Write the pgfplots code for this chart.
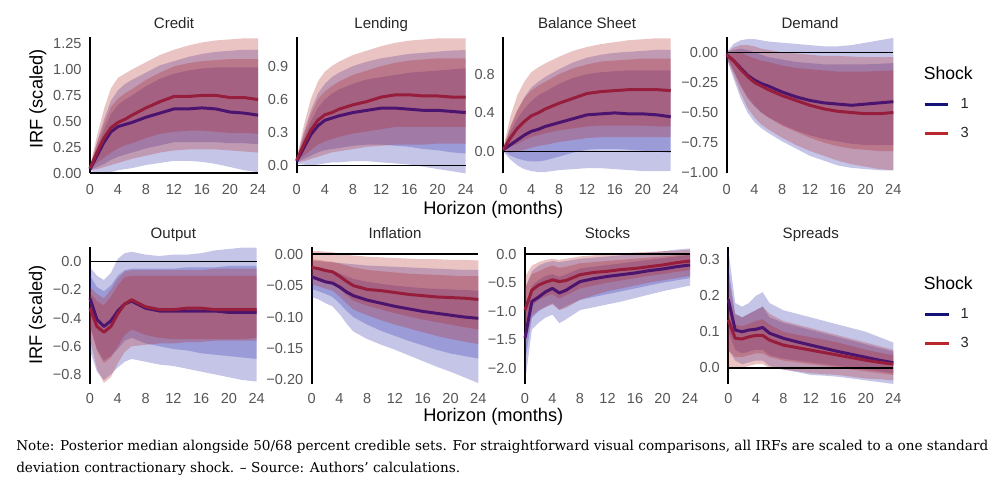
\documentclass[border=0pt]{standalone}
\usepackage{fontspec}
\setmainfont{Liberation Sans}
\newfontfamily\notefont{DejaVu Serif}
\usepackage{pgfplots}
\pgfplotsset{compat=1.18}
\usepackage{pgfplotstable}
\usepgfplotslibrary{fillbetween}

\definecolor{cnavy}{RGB}{40,40,170}
\definecolor{cred}{RGB}{178,34,34}
\definecolor{cblueline}{RGB}{75,20,110}
\definecolor{credline}{RGB}{150,30,60}
\definecolor{legnavy}{RGB}{20,20,120}
\definecolor{legred}{RGB}{185,40,45}
\definecolor{tickgray}{RGB}{85,85,85}
\definecolor{titlegray}{RGB}{38,38,38}

\pgfplotstableread{
x bm b68l b68u b50l b50u rm r68l r68u r50l r50u
0 0.04 0.02 0.06 0.03 0.05 0.05 0.03 0.07 0.04 0.06
1 0.17 0.01 0.30 0.06 0.25 0.20 0.04 0.36 0.10 0.29
2 0.30 0.00 0.52 0.09 0.42 0.34 0.06 0.62 0.15 0.48
3 0.40 0.01 0.70 0.13 0.57 0.44 0.08 0.82 0.20 0.64
4 0.45 0.03 0.80 0.16 0.66 0.49 0.10 0.92 0.24 0.72
5 0.47 0.04 0.86 0.18 0.71 0.52 0.12 0.96 0.27 0.77
6 0.49 0.05 0.90 0.20 0.75 0.56 0.14 1.00 0.29 0.81
8 0.54 0.08 0.97 0.24 0.84 0.63 0.17 1.07 0.34 0.90
10 0.58 0.10 1.04 0.27 0.91 0.69 0.20 1.14 0.38 0.97
12 0.62 0.12 1.08 0.30 0.96 0.74 0.22 1.19 0.40 1.03
14 0.62 0.12 1.12 0.30 0.99 0.74 0.23 1.23 0.41 1.06
16 0.63 0.11 1.15 0.30 1.01 0.75 0.23 1.26 0.41 1.08
18 0.62 0.09 1.17 0.30 1.02 0.75 0.23 1.28 0.40 1.09
20 0.59 0.06 1.18 0.29 1.02 0.73 0.22 1.29 0.39 1.10
22 0.58 0.03 1.19 0.29 1.02 0.73 0.21 1.30 0.39 1.10
24 0.56 0.01 1.19 0.28 1.02 0.71 0.20 1.30 0.38 1.10
}\credit

\pgfplotstableread{
x bm b68l b68u b50l b50u rm r68l r68u r50l r50u
0 0.04 0.02 0.06 0.03 0.05 0.05 0.03 0.07 0.04 0.06
1 0.16 0.01 0.30 0.06 0.24 0.19 0.04 0.36 0.09 0.28
2 0.28 0.00 0.50 0.09 0.40 0.32 0.06 0.60 0.14 0.46
3 0.36 0.01 0.65 0.12 0.52 0.41 0.08 0.76 0.19 0.60
4 0.41 0.02 0.74 0.14 0.60 0.46 0.10 0.85 0.22 0.67
5 0.43 0.03 0.80 0.15 0.65 0.48 0.12 0.90 0.24 0.72
6 0.45 0.03 0.84 0.16 0.69 0.51 0.13 0.94 0.26 0.76
8 0.48 0.04 0.90 0.18 0.74 0.55 0.15 1.00 0.29 0.82
10 0.50 0.04 0.94 0.19 0.78 0.58 0.17 1.04 0.31 0.86
12 0.52 0.03 0.97 0.19 0.80 0.62 0.18 1.08 0.33 0.90
14 0.52 0.02 0.99 0.18 0.82 0.64 0.19 1.11 0.35 0.93
16 0.51 0.01 1.01 0.17 0.84 0.64 0.19 1.13 0.35 0.95
18 0.50 -0.01 1.02 0.15 0.85 0.63 0.19 1.14 0.35 0.96
20 0.50 -0.03 1.03 0.14 0.86 0.63 0.20 1.15 0.35 0.97
22 0.49 -0.05 1.04 0.12 0.87 0.62 0.20 1.15 0.35 0.97
24 0.48 -0.07 1.045 0.11 0.88 0.62 0.20 1.15 0.35 0.97
}\lending

\pgfplotstableread{
x bm b68l b68u b50l b50u rm r68l r68u r50l r50u
0 0.02 0.00 0.04 0.01 0.03 0.02 0.01 0.04 0.01 0.03
1 0.07 -0.08 0.25 -0.04 0.20 0.14 -0.01 0.36 0.05 0.26
2 0.12 -0.14 0.42 -0.07 0.34 0.24 0.00 0.58 0.08 0.43
3 0.17 -0.18 0.56 -0.09 0.44 0.31 0.02 0.72 0.12 0.55
4 0.21 -0.20 0.66 -0.10 0.52 0.37 0.04 0.82 0.15 0.63
5 0.23 -0.21 0.72 -0.10 0.58 0.40 0.06 0.87 0.17 0.68
6 0.26 -0.21 0.77 -0.09 0.62 0.44 0.07 0.91 0.19 0.72
8 0.30 -0.19 0.85 -0.05 0.70 0.50 0.10 0.98 0.22 0.80
10 0.34 -0.18 0.92 -0.01 0.76 0.55 0.12 1.04 0.24 0.86
12 0.38 -0.17 0.97 0.02 0.80 0.60 0.14 1.08 0.26 0.90
14 0.39 -0.17 1.00 0.03 0.82 0.62 0.15 1.11 0.27 0.93
16 0.40 -0.18 1.02 0.03 0.83 0.63 0.15 1.13 0.27 0.94
18 0.39 -0.19 1.03 0.02 0.84 0.64 0.15 1.15 0.27 0.95
20 0.39 -0.20 1.04 0.01 0.84 0.64 0.15 1.16 0.27 0.96
22 0.38 -0.20 1.05 0.00 0.84 0.64 0.15 1.17 0.26 0.96
24 0.36 -0.20 1.05 -0.01 0.84 0.63 0.15 1.17 0.26 0.96
}\balance

\pgfplotstableread{
x bm b68l b68u b50l b50u rm r68l r68u r50l r50u
0 -0.02 -0.05 0.00 -0.04 0.00 -0.02 -0.05 0.00 -0.04 0.00
1 -0.07 -0.22 0.07 -0.16 0.02 -0.07 -0.19 0.04 -0.15 0.00
2 -0.13 -0.38 0.10 -0.28 0.03 -0.14 -0.34 0.06 -0.27 0.00
3 -0.19 -0.50 0.11 -0.38 0.02 -0.20 -0.46 0.06 -0.37 -0.03
4 -0.23 -0.58 0.11 -0.45 0.00 -0.25 -0.54 0.05 -0.44 -0.05
5 -0.26 -0.63 0.10 -0.50 -0.02 -0.28 -0.60 0.03 -0.50 -0.07
6 -0.28 -0.67 0.09 -0.54 -0.04 -0.31 -0.64 0.02 -0.54 -0.08
8 -0.33 -0.74 0.08 -0.60 -0.06 -0.36 -0.71 0.00 -0.61 -0.11
10 -0.37 -0.80 0.07 -0.65 -0.08 -0.40 -0.77 -0.01 -0.66 -0.13
12 -0.40 -0.86 0.06 -0.69 -0.09 -0.44 -0.82 -0.02 -0.71 -0.14
14 -0.42 -0.90 0.05 -0.72 -0.10 -0.47 -0.86 -0.03 -0.75 -0.15
16 -0.43 -0.94 0.05 -0.74 -0.10 -0.49 -0.90 -0.03 -0.78 -0.16
18 -0.44 -0.96 0.06 -0.76 -0.10 -0.50 -0.93 -0.035 -0.80 -0.16
20 -0.43 -0.97 0.08 -0.77 -0.10 -0.51 -0.95 -0.04 -0.81 -0.16
22 -0.42 -0.98 0.10 -0.77 -0.095 -0.51 -0.97 -0.04 -0.82 -0.155
24 -0.41 -0.98 0.12 -0.77 -0.09 -0.50 -0.98 -0.04 -0.82 -0.15
}\demand

\pgfplotstableread{
x bm b68l b68u b50l b50u rm r68l r68u r50l r50u
0 -0.26 -0.63 -0.04 -0.45 -0.10 -0.33 -0.55 -0.18 -0.46 -0.22
1 -0.41 -0.78 -0.10 -0.62 -0.18 -0.46 -0.76 -0.23 -0.63 -0.28
2 -0.46 -0.84 -0.13 -0.70 -0.21 -0.50 -0.86 -0.26 -0.72 -0.31
3 -0.42 -0.80 -0.08 -0.67 -0.17 -0.46 -0.82 -0.20 -0.68 -0.25
4 -0.35 -0.75 0.02 -0.62 -0.10 -0.37 -0.72 -0.12 -0.60 -0.17
5 -0.30 -0.71 0.06 -0.56 -0.06 -0.30 -0.64 -0.07 -0.52 -0.11
6 -0.28 -0.69 0.07 -0.54 -0.05 -0.27 -0.60 -0.06 -0.48 -0.10
8 -0.33 -0.71 0.05 -0.58 -0.05 -0.32 -0.59 -0.06 -0.52 -0.10
10 -0.35 -0.73 0.04 -0.60 -0.05 -0.34 -0.58 -0.06 -0.54 -0.10
12 -0.35 -0.74 0.05 -0.62 -0.05 -0.34 -0.58 -0.06 -0.55 -0.10
14 -0.35 -0.76 0.05 -0.63 -0.04 -0.33 -0.57 -0.06 -0.55 -0.10
16 -0.35 -0.78 0.06 -0.65 -0.04 -0.33 -0.57 -0.06 -0.55 -0.10
18 -0.35 -0.80 0.08 -0.66 -0.04 -0.34 -0.56 -0.05 -0.55 -0.10
20 -0.36 -0.82 0.09 -0.67 -0.03 -0.34 -0.56 -0.05 -0.55 -0.10
22 -0.36 -0.84 0.10 -0.68 -0.03 -0.34 -0.56 -0.05 -0.55 -0.10
24 -0.36 -0.85 0.10 -0.69 -0.03 -0.34 -0.56 -0.05 -0.54 -0.10
}\output

\pgfplotstableread{
x bm b68l b68u b50l b50u rm r68l r68u r50l r50u
0 -0.036 -0.068 -0.010 -0.055 -0.020 -0.021 -0.048 0.005 -0.037 -0.008
1 -0.040 -0.072 -0.011 -0.059 -0.022 -0.023 -0.051 0.005 -0.040 -0.009
2 -0.044 -0.078 -0.012 -0.063 -0.024 -0.026 -0.055 0.004 -0.043 -0.011
3 -0.046 -0.083 -0.013 -0.068 -0.026 -0.028 -0.058 0.003 -0.046 -0.012
4 -0.052 -0.095 -0.014 -0.078 -0.030 -0.035 -0.067 0.001 -0.055 -0.015
5 -0.060 -0.110 -0.015 -0.090 -0.035 -0.043 -0.078 -0.001 -0.065 -0.018
6 -0.066 -0.123 -0.016 -0.100 -0.039 -0.050 -0.088 -0.002 -0.074 -0.021
8 -0.073 -0.135 -0.018 -0.112 -0.044 -0.056 -0.097 -0.004 -0.082 -0.025
10 -0.078 -0.144 -0.019 -0.122 -0.047 -0.058 -0.105 -0.005 -0.088 -0.027
12 -0.083 -0.152 -0.020 -0.130 -0.050 -0.061 -0.112 -0.006 -0.094 -0.029
14 -0.087 -0.161 -0.021 -0.138 -0.052 -0.064 -0.118 -0.007 -0.099 -0.031
16 -0.091 -0.170 -0.022 -0.145 -0.054 -0.066 -0.124 -0.008 -0.104 -0.032
18 -0.094 -0.179 -0.023 -0.152 -0.055 -0.068 -0.130 -0.008 -0.108 -0.033
20 -0.097 -0.187 -0.024 -0.158 -0.056 -0.069 -0.135 -0.009 -0.112 -0.034
22 -0.100 -0.196 -0.025 -0.162 -0.057 -0.070 -0.139 -0.009 -0.116 -0.035
24 -0.102 -0.205 -0.025 -0.166 -0.058 -0.072 -0.143 -0.010 -0.120 -0.035
}\inflation

\pgfplotstableread{
x bm b68l b68u b50l b50u rm r68l r68u r50l r50u
0 -1.47 -2.25 -0.60 -1.90 -1.00 -0.98 -1.60 -0.40 -1.35 -0.60
1 -0.83 -1.32 -0.30 -1.12 -0.55 -0.63 -1.08 -0.20 -0.90 -0.35
2 -0.75 -1.20 -0.20 -1.00 -0.45 -0.54 -0.98 -0.14 -0.80 -0.30
3 -0.66 -1.11 -0.15 -0.92 -0.38 -0.49 -0.93 -0.10 -0.74 -0.24
4 -0.60 -1.06 -0.12 -0.86 -0.35 -0.45 -0.88 -0.08 -0.70 -0.20
5 -0.68 -1.21 -0.14 -0.97 -0.40 -0.48 -0.98 -0.10 -0.78 -0.24
6 -0.63 -1.14 -0.12 -0.91 -0.35 -0.46 -0.94 -0.08 -0.72 -0.22
8 -0.48 -0.98 -0.08 -0.80 -0.25 -0.36 -0.80 -0.04 -0.60 -0.16
10 -0.43 -0.93 -0.06 -0.75 -0.22 -0.32 -0.72 -0.02 -0.55 -0.14
12 -0.39 -0.88 -0.04 -0.70 -0.19 -0.30 -0.65 0.00 -0.50 -0.12
14 -0.36 -0.83 -0.02 -0.65 -0.16 -0.27 -0.60 0.01 -0.46 -0.10
16 -0.33 -0.77 0.00 -0.60 -0.13 -0.25 -0.55 0.03 -0.42 -0.08
18 -0.29 -0.71 0.03 -0.55 -0.10 -0.22 -0.50 0.04 -0.38 -0.06
20 -0.26 -0.65 0.05 -0.50 -0.07 -0.19 -0.46 0.05 -0.35 -0.04
22 -0.22 -0.60 0.08 -0.46 -0.04 -0.15 -0.42 0.06 -0.31 -0.02
24 -0.19 -0.55 0.10 -0.42 -0.01 -0.12 -0.38 0.08 -0.28 0.00
}\stocks

\pgfplotstableread{
x bm b68l b68u b50l b50u rm r68l r68u r50l r50u
0 0.190 0.050 0.330 0.100 0.280 0.133 0.000 0.250 0.050 0.200
1 0.105 0.020 0.180 0.050 0.150 0.082 0.000 0.150 0.030 0.120
2 0.100 0.010 0.170 0.040 0.140 0.080 0.000 0.140 0.030 0.115
3 0.105 0.015 0.180 0.045 0.150 0.086 0.005 0.150 0.035 0.122
4 0.107 0.020 0.200 0.050 0.160 0.090 0.010 0.160 0.040 0.130
5 0.112 0.020 0.210 0.050 0.170 0.090 0.010 0.170 0.040 0.135
6 0.096 0.005 0.180 0.035 0.140 0.077 0.000 0.150 0.030 0.120
8 0.082 -0.005 0.160 0.025 0.125 0.063 -0.005 0.130 0.020 0.100
10 0.072 -0.012 0.150 0.020 0.115 0.056 -0.010 0.120 0.015 0.092
12 0.063 -0.020 0.140 0.015 0.105 0.049 -0.015 0.110 0.010 0.085
14 0.054 -0.022 0.130 0.010 0.095 0.042 -0.018 0.100 0.005 0.078
16 0.045 -0.025 0.120 0.005 0.085 0.035 -0.020 0.090 0.000 0.070
18 0.037 -0.030 0.110 0.000 0.075 0.028 -0.025 0.080 -0.005 0.060
20 0.029 -0.035 0.100 -0.005 0.065 0.021 -0.030 0.070 -0.010 0.050
22 0.021 -0.040 0.085 -0.010 0.055 0.015 -0.032 0.060 -0.015 0.042
24 0.014 -0.045 0.070 -0.015 0.045 0.010 -0.035 0.050 -0.020 0.035
}\spreads

\newcommand{\band}[4]{%
  \addplot[name path=#2, draw=none, forget plot] table[x=x,y=#2]{#1};
  \addplot[name path=#3, draw=none, forget plot] table[x=x,y=#3]{#1};
  \addplot[fill=#4, fill opacity=0.27, draw=none, forget plot] fill between[of=#3 and #2];
}
\newcommand{\irfplots}[1]{%
  \band{#1}{b68l}{b68u}{cnavy}
  \band{#1}{b50l}{b50u}{cnavy}
  \band{#1}{r68l}{r68u}{cred}
  \band{#1}{r50l}{r50u}{cred}
  \addplot[cblueline, line width=2.25pt, line join=round, forget plot] table[x=x,y=bm]{#1};
  \addplot[credline, line width=2.25pt, line join=round, forget plot] table[x=x,y=rm]{#1};
  \addplot[black, line width=1.2pt, forget plot] coordinates {(0,0) (24,0)};
}

\pgfplotsset{
  every axis title shift=0pt,
  irf/.style={
    scale only axis, clip=false, anchor=south west,
    xmin=0, xmax=24, xtick={0,4,8,12,16,20,24},
    xticklabels={0,4,8,12,16,20,24},
    axis y line*=left, axis x line*=bottom,
    x axis line style={draw=none},
    y axis line style={line width=1.5pt, black},
    major tick length=0pt, tick style={draw=none},
    ticklabel style={font=\fontsize{10.9}{12}\selectfont, text=tickgray, inner sep=0pt},
    yticklabel style={anchor=east, xshift=-6.2pt},
    title style={at={(0.5,1)}, anchor=base, yshift=6.6pt,
      font=\fontsize{11.3}{13}\selectfont, text=titlegray},
  },
  toprow/.style={irf, height=102pt, xticklabel style={anchor=north, yshift=-8.4pt}},
  botrow/.style={irf, height=102.75pt, xticklabel style={anchor=north, yshift=-6.8pt}},
  shocklegend/.style={
    legend style={at={(#1)}, anchor=west, draw=none, fill=none, inner sep=0pt,
      font=\fontsize{11}{13}\selectfont, text=titlegray, row sep=12.5pt, column sep=8pt,
      cells={anchor=center}, nodes={inner sep=0pt}},
    legend image code/.code={\draw[##1] (0pt,0pt) -- (17.8pt,0pt);},
  },
}

\begin{document}
\begin{tikzpicture}

% ---- top row ----
\begin{axis}[toprow, at={(67.5pt,234.525pt)}, width=126pt, title={Credit},
  ymin=0, ymax=1.31, ytick={0,0.25,0.5,0.75,1,1.25},
  yticklabels={0.00,0.25,0.50,0.75,1.00,1.25}]
\irfplots{\credit}
\end{axis}

\begin{axis}[toprow, at={(222.525pt,234.525pt)}, width=126.75pt, title={Lending},
  ymin=-0.069, ymax=1.16, ytick={0,0.3,0.6,0.9},
  yticklabels={0.0,0.3,0.6,0.9}]
\irfplots{\lending}
\end{axis}

\begin{axis}[toprow, at={(377.475pt,234.525pt)}, width=125.55pt, title={Balance Sheet},
  ymin=-0.223, ymax=1.18, ytick={0,0.4,0.8},
  yticklabels={0.0,0.4,0.8}]
\irfplots{\balance}
\end{axis}

\begin{axis}[toprow, at={(545.025pt,234.525pt)}, width=124.95pt, title={Demand},
  ymin=-1.005, ymax=0.125, ytick={-1,-0.75,-0.5,-0.25,0},
  yticklabels={−1.00,−0.75,−0.50,−0.25,0.00},
  shocklegend={1.1776,0.398}]
\irfplots{\demand}
\addlegendimage{legnavy, line width=2.25pt}
\addlegendentry{1}
\addlegendimage{legred, line width=2.25pt}
\addlegendentry{3}
\node[font=\fontsize{13.2}{15}\selectfont, text=black] at (axis description cs:1.33,0.735) {Shock};
\end{axis}

% ---- bottom row ----
\begin{axis}[botrow, at={(67.5pt,76.275pt)}, width=125pt, title={Output},
  ymin=-0.87, ymax=0.102, ytick={-0.8,-0.6,-0.4,-0.2,0},
  yticklabels={−0.8,−0.6,−0.4,−0.2,0.0}]
\irfplots{\output}
\end{axis}

\begin{axis}[botrow, at={(233.775pt,76.275pt)}, width=124.95pt, title={Inflation},
  ymin=-0.207, ymax=0.011, ytick={-0.2,-0.15,-0.1,-0.05,0},
  yticklabels={−0.20,−0.15,−0.10,−0.05,0.00}]
\irfplots{\inflation}
\end{axis}

\begin{axis}[botrow, at={(393.75pt,76.275pt)}, width=123.75pt, title={Stocks},
  ymin=-2.28, ymax=0.12, ytick={-2,-1.5,-1,-0.5,0},
  yticklabels={−2.0,−1.5,−1.0,−0.5,0.0}]
\irfplots{\stocks}
\end{axis}

\begin{axis}[botrow, at={(546.225pt,76.275pt)}, width=123.75pt, title={Spreads},
  ymin=-0.046, ymax=0.335, ytick={0,0.1,0.2,0.3},
  yticklabels={0.0,0.1,0.2,0.3},
  shocklegend={1.18,0.402}]
\irfplots{\spreads}
\addlegendimage{legnavy, line width=2.25pt}
\addlegendentry{1}
\addlegendimage{legred, line width=2.25pt}
\addlegendentry{3}
\node[font=\fontsize{13.2}{15}\selectfont, text=black] at (axis description cs:1.333,0.737) {Shock};
\end{axis}

% ---- shared labels ----
\node[font=\fontsize{13.7}{16}\selectfont] at (369.975pt,207.5pt) {Horizon (months)};
\node[font=\fontsize{13.7}{16}\selectfont] at (369.975pt,52pt) {Horizon (months)};
\node[font=\fontsize{13.7}{16}\selectfont, rotate=90] at (28.5pt,290.25pt) {IRF (scaled)};
\node[font=\fontsize{13.7}{16}\selectfont, rotate=90] at (28pt,128.25pt) {IRF (scaled)};

% ---- note ----
\node[anchor=base west, inner sep=0pt] at (12pt,27pt)
  {\resizebox{729pt}{!}{\notefont\fontsize{10.2}{16.5}\selectfont
   \begin{tabular}[t]{@{}l@{}}
   Note: Posterior median alongside 50/68 percent credible sets. For straightforward visual comparisons, all IRFs are scaled to a one standard\\
   deviation contractionary shock. – Source: Authors’ calculations.
   \end{tabular}}};

\pgfresetboundingbox
\path[use as bounding box] (0pt,0pt) rectangle (755.25pt,364.5pt);
\end{tikzpicture}
\end{document}
